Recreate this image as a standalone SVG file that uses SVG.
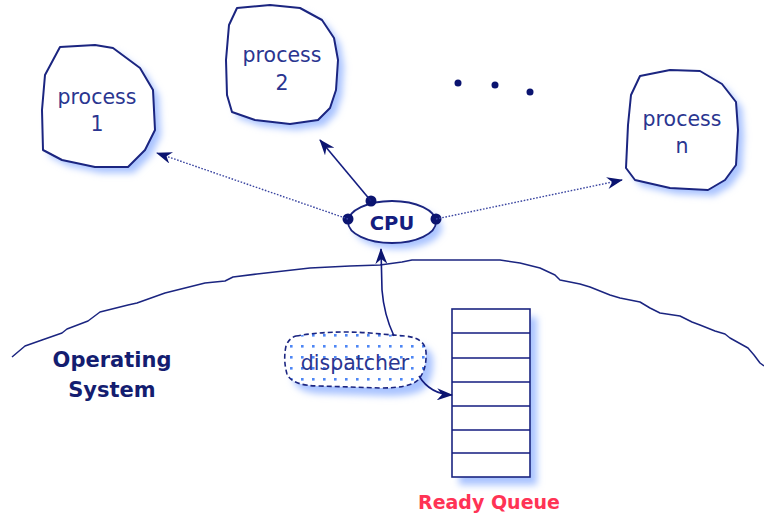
<svg xmlns="http://www.w3.org/2000/svg" width="764" height="516" viewBox="0 0 764 516">
  <defs>
    <style>
      .blob { fill: #ffffff; stroke: #1b2580; stroke-width: 2; stroke-linejoin: round; }
      .shadow { fill: #a9c3ff; filter: url(#soft); }
      .ptext { font-family: "DejaVu Sans", "Liberation Sans", sans-serif; font-size: 20.5px; fill: #2a3590; text-anchor: middle; }
      .wire { fill: none; stroke: #141d80; stroke-width: 1.6; }
      .dotted { fill: none; stroke: #3a45a0; stroke-width: 1.4; stroke-dasharray: 1.6 1.6; }
      .ground { fill: none; stroke: #1b2580; stroke-width: 1.5; stroke-linejoin: round; }
      .pin { fill: #0b1470; }
      .cell { fill: #ffffff; stroke: #1b2580; stroke-width: 1.6; }
      .bold { font-family: "DejaVu Sans", "Liberation Sans", sans-serif; font-weight: bold; text-anchor: middle; }
    </style>
    <filter id="soft" x="-20%" y="-20%" width="140%" height="140%">
      <feGaussianBlur stdDeviation="3.5"/>
    </filter>
    <marker id="barb" viewBox="0 0 16 12" refX="15" refY="6" markerWidth="16" markerHeight="12" markerUnits="userSpaceOnUse" orient="auto">
      <path d="M0,0 L16,6 L0,12 L5,6 Z" fill="#0b1470"/>
    </marker>
    <pattern id="dots" width="11" height="11" patternUnits="userSpaceOnUse">
      <rect x="4" y="4" width="2.6" height="2.6" fill="#4d86f5"/>
    </pattern>
  </defs>

  <!-- Operating system boundary -->
  <path class="ground" d="M12,357 L25,346 L42,340 L62,333 L67,329 L88,321 L100,312 L128,305 L137,303 L165,293 L205,283 L225,281 L233,277 L257,274 L310,268 L350,266 L380,265 L402,262 L412,260 L500,260 L520,263 L540,268 L555,275 L560,280 L580,284 L590,287 L610,295 L620,298 L640,302 L650,308 L660,313 L680,316 L692,322 L700,325 L715,331 L725,334 L730,338 L748,348 L754,355 L760,363 L764,366"/>

  <!-- process 1 -->
  <g id="process1">
    <path class="shadow" transform="translate(6,6)" d="M60,47 L95,45 L113,48 L140,68 L153,90 L155,130 L145,150 L128,167 L95,167 L62,160 L43,150 L42,110 L45,75 Z"/>
    <path class="blob" d="M60,47 L95,45 L113,48 L140,68 L153,90 L155,130 L145,150 L128,167 L95,167 L62,160 L43,150 L42,110 L45,75 Z"/>
    <text class="ptext" x="97" y="104">process</text>
    <text class="ptext" x="97" y="131">1</text>
  </g>

  <!-- process 2 -->
  <g id="process2">
    <path class="shadow" transform="translate(6,6)" d="M237,8 L270,5 L300,8 L322,20 L334,38 L338,60 L336,90 L330,108 L318,120 L290,124 L255,120 L232,112 L227,95 L226,60 L229,25 Z"/>
    <path class="blob" d="M237,8 L270,5 L300,8 L322,20 L334,38 L338,60 L336,90 L330,108 L318,120 L290,124 L255,120 L232,112 L227,95 L226,60 L229,25 Z"/>
    <text class="ptext" x="282" y="62">process</text>
    <text class="ptext" x="282" y="90">2</text>
  </g>

  <!-- process n -->
  <g id="processn">
    <path class="shadow" transform="translate(6,6)" d="M640,76 L670,70 L700,71 L722,84 L736,102 L738,130 L736,165 L725,180 L708,190 L670,188 L635,180 L626,168 L628,125 L631,95 Z"/>
    <path class="blob" d="M640,76 L670,70 L700,71 L722,84 L736,102 L738,130 L736,165 L725,180 L708,190 L670,188 L635,180 L626,168 L628,125 L631,95 Z"/>
    <text class="ptext" x="682" y="126">process</text>
    <text class="ptext" x="682" y="153">n</text>
  </g>

  <!-- ellipsis between processes -->
  <g id="more">
    <circle class="pin" cx="458" cy="83" r="3.5"/>
    <circle class="pin" cx="495" cy="85" r="3.5"/>
    <circle class="pin" cx="530" cy="92" r="3.5"/>
  </g>

  <!-- CPU -->
  <g id="cpu">
    <ellipse class="shadow" cx="398" cy="228" rx="44" ry="21"/>
    <ellipse cx="392" cy="222" rx="44" ry="21" fill="#ffffff" stroke="#1b2580" stroke-width="1.8"/>
    <text class="bold" x="392" y="230" font-size="19.5" fill="#141d80">CPU</text>
    <circle class="pin" cx="348" cy="219" r="5.5"/>
    <circle class="pin" cx="436" cy="219" r="5.5"/>
    <circle class="pin" cx="371" cy="201" r="5.5"/>
  </g>

  <!-- dispatcher -->
  <g id="dispatcher">
    <path class="shadow" transform="translate(7,8)" d="M296,336 Q330,330 370,333 L405,336 Q425,338 426,352 Q427,370 418,380 Q410,388 380,388 L320,386 Q292,386 287,374 Q283,360 286,346 Q289,338 296,336 Z"/>
    <path d="M296,336 Q330,330 370,333 L405,336 Q425,338 426,352 Q427,370 418,380 Q410,388 380,388 L320,386 Q292,386 287,374 Q283,360 286,346 Q289,338 296,336 Z" fill="#ffffff"/>
    <path d="M296,336 Q330,330 370,333 L405,336 Q425,338 426,352 Q427,370 418,380 Q410,388 380,388 L320,386 Q292,386 287,374 Q283,360 286,346 Q289,338 296,336 Z" fill="url(#dots)" stroke="#1b2580" stroke-width="1.6" stroke-dasharray="5 3"/>
    <text class="ptext" x="355" y="370">dispatcher</text>
  </g>

  <!-- ready queue -->
  <g id="readyqueue">
    <rect class="shadow" x="459" y="317" width="78" height="168"/>
    <rect class="cell" x="452" y="309" width="78" height="168"/>
    <path class="wire" d="M452,333 H530 M452,358 H530 M452,382 H530 M452,406 H530 M452,430 H530 M452,453 H530"/>
    <text class="bold" x="489" y="509" font-size="19" fill="#ff3355">Ready Queue</text>
  </g>

  <!-- operating system label -->
  <g id="os-label">
    <text class="bold" x="112" y="367" font-size="21" fill="#141d70">Operating</text>
    <text class="bold" x="112" y="397" font-size="21" fill="#141d70">System</text>
  </g>

  <!-- connectors -->
  <g id="connectors">
    <line class="dotted" x1="348" y1="219" x2="157" y2="153" marker-end="url(#barb)"/>
    <line class="wire" x1="371" y1="201" x2="320" y2="140" marker-end="url(#barb)"/>
    <line class="dotted" x1="436" y1="219" x2="622" y2="180" marker-end="url(#barb)"/>
    <path class="wire" d="M394,336 Q384,315 382,290 L381,249" marker-end="url(#barb)"/>
    <path class="wire" d="M419,376 Q430,394 452,395" marker-end="url(#barb)"/>
  </g>
</svg>
